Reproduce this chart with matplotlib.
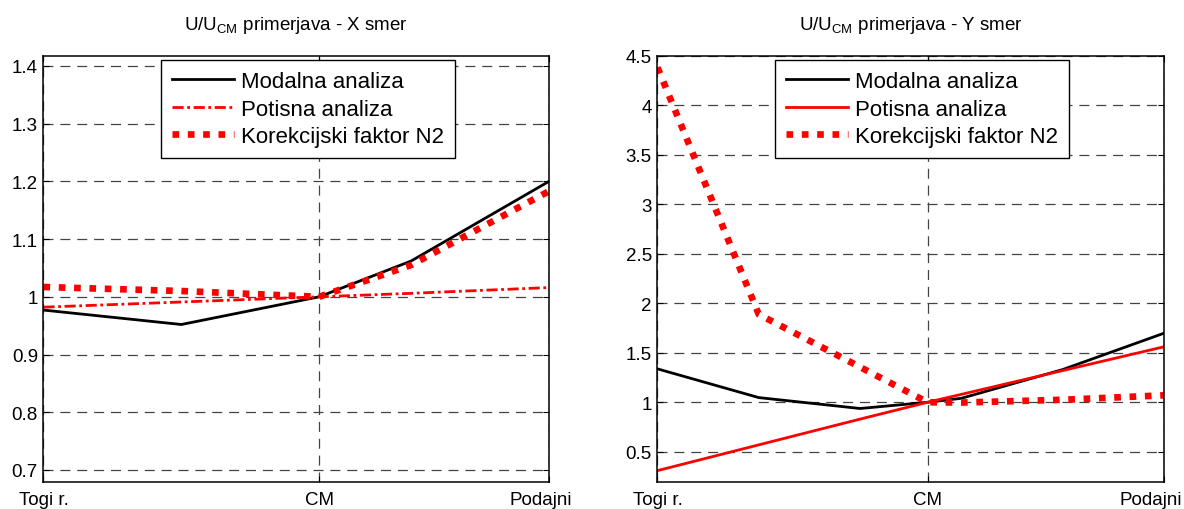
import matplotlib
matplotlib.use("Agg")
import matplotlib.pyplot as plt
from matplotlib.ticker import FuncFormatter
from matplotlib.transforms import ScaledTranslation

plt.rcParams['font.family'] = ['Liberation Sans', 'DejaVu Sans']
plt.rcParams['mathtext.fontset'] = 'custom'
plt.rcParams['mathtext.rm'] = 'Liberation Sans'
plt.rcParams['mathtext.it'] = 'Liberation Sans:italic'

# X direction
x_pos_x = [-6, -3, 0, 2, 5]
modal_x = [0.977, 0.952, 1.0, 1.062, 1.200]
pushover_x = [0.982, 0.991, 1.0, 1.006, 1.016]
n2_x = [1.017, 1.010, 1.0, 1.055, 1.183]

# Y direction
x_pos_y = [-8, -5, -2, 0, 1, 4, 7]
modal_y = [1.337, 1.047, 0.937, 1.0, 1.04, 1.33, 1.697]
pushover_y = [0.31, 0.57, 0.83, 1.0, 1.08, 1.32, 1.56]
n2_y = [4.38, 1.887, 1.355, 1.0, 0.997, 1.025, 1.07]

labels = ['Modalna analiza', 'Potisna analiza', 'Korekcijski faktor N2']
tick_names = ['Togi r.', 'CM', 'Podajni']
titles = [r'U/U$_{\mathrm{CM}}$ primerjava - X smer',
          r'U/U$_{\mathrm{CM}}$ primerjava - Y smer']

fig = plt.figure(figsize=(11.84, 5.10), dpi=100)
ax1 = fig.add_axes([0.0367, 0.0539, 0.4270, 0.8353])
ax2 = fig.add_axes([0.5553, 0.0539, 0.4278, 0.8353])

dashdot = (0, (4, 1.3, 1, 1.3))
dotted = (0, (1, 1.3))

ax1.plot(x_pos_x, modal_x, color='black', lw=2.0, label=labels[0])
ax1.plot(x_pos_x, pushover_x, color='red', lw=2.0, linestyle=dashdot, label=labels[1])
ax1.plot(x_pos_x, n2_x, color='red', lw=4.8, linestyle=dotted,
         dash_capstyle='butt', label=labels[2])

ax2.plot(x_pos_y, modal_y, color='black', lw=2.0, label=labels[0])
ax2.plot(x_pos_y, pushover_y, color='red', lw=2.0, label=labels[1])
ax2.plot(x_pos_y, n2_y, color='red', lw=4.8, linestyle=dotted,
         dash_capstyle='butt', label=labels[2])

fmt = FuncFormatter(lambda v, p: f'{v:g}')

for ax, xs, ylim, yticks, title, shift in [
        (ax1, x_pos_x, (0.68, 1.418), [0.7, 0.8, 0.9, 1.0, 1.1, 1.2, 1.3, 1.4], titles[0], -8),
        (ax2, x_pos_y, (0.2, 4.5), [0.5, 1, 1.5, 2, 2.5, 3, 3.5, 4, 4.5], titles[1], -13)]:
    ax.set_xlim(xs[0], xs[-1])
    ax.set_ylim(*ylim)
    ax.set_xticks([xs[0], 0, xs[-1]])
    ax.set_xticklabels(tick_names)
    ax.set_yticks(yticks)
    ax.yaxis.set_major_formatter(fmt)
    ax.tick_params(direction='in', length=4, width=0.8, top=True, right=True,
                   labelsize=13.5, pad=4, colors='black')
    ax.tick_params(axis='x', pad=6.5)
    ax.grid(True, color='#444444', lw=0.9, linestyle=(0, (8, 5.5)))
    for s in ax.spines.values():
        s.set_linewidth(1.1)
        s.set_color('black')
    ax.set_title(title, fontsize=13.5, pad=19)
    leg = ax.legend(loc='upper left', bbox_to_anchor=(0.232, 0.99), borderaxespad=0,
                    fontsize=16, fancybox=False, framealpha=1, edgecolor='black',
                    handlelength=2.8, handletextpad=0.3, labelspacing=0.3,
                    borderpad=0.5)
    leg.get_frame().set_linewidth(1.0)
    # keep the last category label inside the figure
    last = ax.get_xticklabels()[-1]
    last.set_transform(last.get_transform() +
                       ScaledTranslation(shift / 100, 0, fig.dpi_scale_trans))

fig.savefig('out.png', dpi=100)
